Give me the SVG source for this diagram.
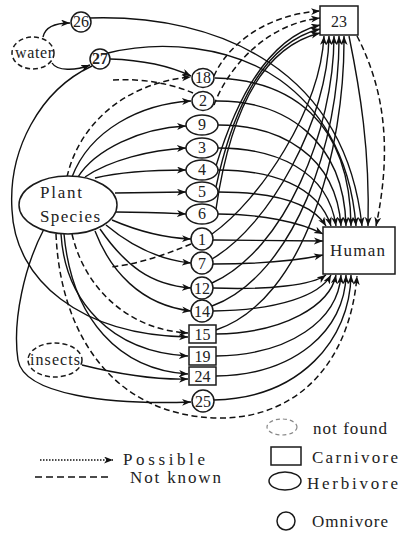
<svg xmlns="http://www.w3.org/2000/svg" width="406" height="539" viewBox="0 0 406 539">
<style>
.n{fill:#fff;stroke:#1a1a1a;stroke-width:1.5}
.nd{fill:#fff;stroke:#1a1a1a;stroke-width:1.5;stroke-dasharray:5,3}
.e{fill:none;stroke:#111;stroke-width:1.4}
.d{fill:none;stroke:#111;stroke-width:1.5;stroke-dasharray:6,3.5}
.t{font-family:"Liberation Serif","DejaVu Serif",serif;font-size:16px;fill:#222;text-anchor:middle}
.l{font-family:"Liberation Serif","DejaVu Serif",serif;font-size:17px;fill:#222}
</style>
<defs>
<marker id="a" markerUnits="userSpaceOnUse" markerWidth="10" markerHeight="8" refX="9" refY="3.5" orient="auto">
<path d="M0,0 L9,3.5 L0,7 L2.5,3.5 z" fill="#111"/>
</marker>
</defs>
<g id="connectors">
<path class="e" marker-end="url(#a)" d="M43,37 C45,27 55,23 70,23"/>
<path class="e" marker-end="url(#a)" d="M52,63 C57,71 75,71 90,65"/>
<path class="e" marker-end="url(#a)" d="M90,18 C220,14 345,70 362,226"/>
<path class="e" marker-end="url(#a)" d="M108,53 C160,40 230,45 280,80 C315,105 350,150 356,226"/>
<path class="e" marker-end="url(#a)" d="M110,59 C140,60 170,66 191,76"/>
<path class="e" marker-end="url(#a)" d="M92,66 C40,90 8,150 12,210 C15,280 80,335 188,337"/>
<path class="d" marker-end="url(#a)" d="M67,177 C80,120 130,82 191,77"/>
<path class="e" marker-end="url(#a)" d="M72,177 C90,130 140,104 191,101"/>
<path class="e" marker-end="url(#a)" d="M78,177 C95,150 140,128 186,126"/>
<path class="e" marker-end="url(#a)" d="M85,177 C110,160 150,150 186,148"/>
<path class="e" marker-end="url(#a)" d="M95,178 C120,172 160,170 186,170"/>
<path class="e" marker-end="url(#a)" d="M115,193 L186,192"/>
<path class="e" marker-end="url(#a)" d="M116,212 C145,212 165,213 186,214"/>
<path class="e" marker-end="url(#a)" d="M112,220 C140,232 165,238 191,239"/>
<path class="e" marker-end="url(#a)" d="M106,225 C130,245 160,260 191,263"/>
<path class="e" marker-end="url(#a)" d="M100,229 C125,265 150,285 191,288"/>
<path class="e" marker-end="url(#a)" d="M95,231 C110,270 140,305 191,311"/>
<path class="d" marker-end="url(#a)" d="M72,234 C85,290 130,330 188,333"/>
<path class="e" marker-end="url(#a)" d="M61,234 C65,300 110,352 188,356"/>
<path class="e" marker-end="url(#a)" d="M64,234 C72,320 120,370 188,374"/>
<path class="e" marker-end="url(#a)" d="M44,229 C25,265 12,320 18,360 C24,395 110,405 191,402"/>
<path class="d" marker-end="url(#a)" d="M56,234 C60,330 110,417 220,418 C300,418 350,360 357,276"/>
<path class="e" marker-end="url(#a)" d="M82,365 C110,372 150,380 188,379"/>
<path class="d" d="M113,80 C145,78 175,85 193,93"/>
<path class="d" d="M191,244 C165,255 135,265 110,267"/>
<path class="d" marker-end="url(#a)" d="M214,76 C225,50 260,15 320,11"/>
<path class="d" marker-end="url(#a)" d="M214,105 C225,75 260,25 320,18"/>
<path class="e" marker-end="url(#a)" d="M216,166 C230,120 260,40 320,25"/>
<path class="e" marker-end="url(#a)" d="M216,187 C228,130 255,45 320,29"/>
<path class="e" marker-end="url(#a)" d="M216,209 C226,140 250,50 320,33"/>
<path class="e" marker-end="url(#a)" d="M212,234 C260,200 320,110 324,36"/>
<path class="e" marker-end="url(#a)" d="M212,259 C270,225 328,120 329,36"/>
<path class="e" marker-end="url(#a)" d="M212,283 C285,250 334,130 334,36"/>
<path class="e" marker-end="url(#a)" d="M212,306 C295,275 340,140 339,36"/>
<path class="e" marker-end="url(#a)" d="M216,330 C305,300 345,150 344,36"/>
<path class="e" marker-end="url(#a)" d="M215,78 C290,80 350,120 351,226"/>
<path class="e" marker-end="url(#a)" d="M215,101 C285,100 344,140 346,226"/>
<path class="e" marker-end="url(#a)" d="M218,125 C280,125 336,155 341,226"/>
<path class="e" marker-end="url(#a)" d="M218,148 C275,148 328,170 336,226"/>
<path class="e" marker-end="url(#a)" d="M218,170 C270,170 318,185 331,226"/>
<path class="e" marker-end="url(#a)" d="M218,192 C265,192 310,200 326,226"/>
<path class="e" marker-end="url(#a)" d="M218,214 C260,214 300,222 323,234"/>
<path class="e" marker-end="url(#a)" d="M213,240 L323,241"/>
<path class="e" marker-end="url(#a)" d="M213,264 C260,264 300,260 323,255"/>
<path class="e" marker-end="url(#a)" d="M213,288 C270,290 312,285 326,275"/>
<path class="e" marker-end="url(#a)" d="M213,311 C280,310 320,295 331,275"/>
<path class="e" marker-end="url(#a)" d="M216,334 C285,333 330,305 336,275"/>
<path class="e" marker-end="url(#a)" d="M216,356 C290,355 338,320 341,275"/>
<path class="e" marker-end="url(#a)" d="M216,376 C295,375 345,330 346,275"/>
<path class="e" marker-end="url(#a)" d="M214,400 C300,398 350,340 351,275"/>
<path class="e" marker-end="url(#a)" d="M349,36 C360,90 370,150 368,226"/>
<path class="d" marker-end="url(#a)" d="M357,36 C385,90 392,150 376,226"/>
</g>
<g id="n-water"><ellipse class="nd" cx="33" cy="53" rx="21" ry="16"/><text class="t" x="34" y="58" font-size="14" textLength="38">water</text></g>
<g id="n-26"><circle class="n" cx="81" cy="22" r="10"/><text class="t" x="81" y="27">26</text></g>
<g id="n-27"><circle class="n" cx="100" cy="59" r="10"/><text class="t" x="100" y="64" font-weight="bold">27</text></g>
<g id="n-plant"><ellipse class="n" cx="68" cy="205" rx="49" ry="29"/><text class="l" x="40" y="198" font-size="18" textLength="42">Plant</text><text class="l" x="40" y="222" font-size="18" textLength="60">Species</text></g>
<g id="n-insects"><ellipse class="nd" cx="55" cy="360" rx="27" ry="17"/><text class="t" x="55" y="365" font-size="14" textLength="50">insects</text></g>
<g id="n-18"><ellipse class="n" cx="203" cy="78" rx="11" ry="9.5"/><text class="t" x="203" y="83" textLength="16">18</text></g>
<g id="n-2"><ellipse class="n" cx="203" cy="101" rx="11" ry="9.5"/><text class="t" x="203" y="106">2</text></g>
<g id="n-9"><ellipse class="n" cx="202" cy="125" rx="16" ry="10"/><text class="t" x="202" y="130">9</text></g>
<g id="n-3"><ellipse class="n" cx="202" cy="148" rx="16" ry="10"/><text class="t" x="202" y="153">3</text></g>
<g id="n-4"><ellipse class="n" cx="202" cy="170" rx="16" ry="10"/><text class="t" x="202" y="175">4</text></g>
<g id="n-5"><ellipse class="n" cx="202" cy="192" rx="16" ry="10"/><text class="t" x="202" y="197">5</text></g>
<g id="n-6"><ellipse class="n" cx="202" cy="214" rx="16" ry="10"/><text class="t" x="202" y="219">6</text></g>
<g id="n-1"><circle class="n" cx="202" cy="239" r="11"/><text class="t" x="202" y="245">1</text></g>
<g id="n-7"><circle class="n" cx="202" cy="263" r="11"/><text class="t" x="202" y="269">7</text></g>
<g id="n-12"><circle class="n" cx="202" cy="288" r="11"/><text class="t" x="202" y="294" textLength="16">12</text></g>
<g id="n-14"><circle class="n" cx="202" cy="311" r="11"/><text class="t" x="202" y="317" textLength="16">14</text></g>
<g id="n-15"><rect class="n" x="189" y="325" width="27" height="18"/><text class="t" x="202.5" y="340">15</text></g>
<g id="n-19"><rect class="n" x="189" y="347" width="27" height="18"/><text class="t" x="202.5" y="362">19</text></g>
<g id="n-24"><rect class="n" x="189" y="367" width="27" height="18"/><text class="t" x="202.5" y="382">24</text></g>
<g id="n-25"><circle class="n" cx="203" cy="401" r="11"/><text class="t" x="203" y="407" textLength="16">25</text></g>
<g id="n-23"><rect class="n" x="320" y="6" width="38" height="29"/><text class="t" x="339" y="27" font-size="17">23</text></g>
<g id="n-human"><rect class="n" x="323" y="227" width="72" height="47"/><text class="l" x="330" y="256" textLength="55">Human</text></g>
<g id="legend">
<line x1="40" y1="460" x2="113" y2="460" stroke="#111" stroke-width="1.5" stroke-dasharray="1.5,1.5" marker-end="url(#a)"/>
<text class="l" x="123" y="465" font-size="15" textLength="82">Possible</text>
<line x1="35" y1="477" x2="112" y2="477" stroke="#111" stroke-width="1.6" stroke-dasharray="7,4"/>
<text class="l" x="130" y="483" font-size="15" textLength="91">Not known</text>
<ellipse cx="282" cy="427" rx="15" ry="8" fill="none" stroke="#888" stroke-width="1.2" stroke-dasharray="4,3"/>
<text class="l" x="313" y="434" textLength="74">not found</text>
<rect class="n" x="271" y="447" width="30" height="18"/>
<text class="l" x="312" y="463" textLength="86">Carnivore</text>
<ellipse class="n" cx="285" cy="481" rx="16" ry="9"/>
<text class="l" x="307" y="489" textLength="91">Herbivore</text>
<circle class="n" cx="286" cy="521" r="9"/>
<text class="l" x="312" y="527" textLength="76">Omnivore</text>
</g>
</svg>
